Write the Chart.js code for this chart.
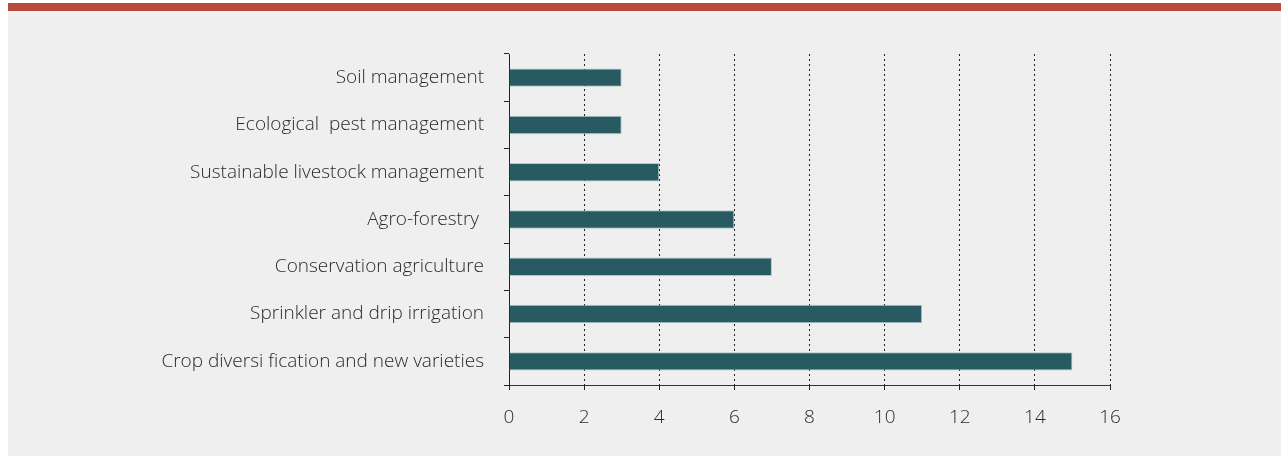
<!DOCTYPE html>
<html>
<head>
<meta charset="utf-8">
<script src="https://cdn.jsdelivr.net/npm/chart.js@4/dist/chart.umd.min.js"></script>
<style>
  body { margin: 0; background: #ffffff; }
  .topbar { position: absolute; left: 8px; top: 3px; width: 1273px; height: 8px; background: #b94a3e; }
  .panel { position: absolute; left: 8px; top: 11px; width: 1273px; height: 445px; background: #efefef; }
  #chart { display: block; }
</style>
</head>
<body>
<div class="topbar"></div>
<div class="panel"><canvas id="chart" width="1273" height="445"></canvas></div>
<script>
const categories = [
    'Soil management',
    'Ecological  pest management',
    'Sustainable livestock management',
    'Agro-forestry ',
    'Conservation agriculture',
    'Sprinkler and drip irrigation',
    'Crop diversi fication and new varieties'
];
const values = [3, 3, 4, 6, 7, 11, 15];
const xTicks = [0, 2, 4, 6, 8, 10, 12, 14, 16];

document.addEventListener('DOMContentLoaded', () => {
    const ctx = document.getElementById('chart');
    const font = { family: "'Open Sans', 'Noto Sans', sans-serif", size: 19, weight: 300 };
    new Chart(ctx, {
        type: 'bar',
        data: {
            labels: categories,
            datasets: [{
                data: values,
                backgroundColor: '#285a62',
                borderColor: 'rgba(160, 190, 195, 0.8)',
                borderWidth: 1,
                borderSkipped: 'left',
                categoryPercentage: 1,
                barPercentage: 0.39
            }]
        },
        options: {
            indexAxis: 'y',
            responsive: false,
            animation: false,
            layout: { padding: { top: 43, right: 171, left: 0, bottom: 0 } },
            scales: {
                x: {
                    min: 0,
                    max: 16,
                    afterBuildTicks: (axis) => { axis.ticks = xTicks.map(v => ({ value: v })); },
                    afterFit: (axis) => { axis.height = 71; },
                    ticks: { color: '#2b2b2b', font: font, padding: 16, maxRotation: 0 },
                    grid: {
                        color: '#222222',
                        lineWidth: 1,
                        tickLength: 5,
                        drawTicks: true
                    },
                    border: { display: false, dash: [2, 3] }
                },
                y: {
                    afterFit: (axis) => { axis.width = 501; },
                    ticks: { color: '#2b2b2b', font: font, padding: 20 },
                    grid: {
                        drawOnChartArea: true,
                        drawTicks: true,
                        tickLength: 5,
                        // only the bottom boundary line is drawn across: it is the solid x axis
                        color: (c) => c.index === undefined ? '#333333' : 'rgba(0,0,0,0)',
                        tickColor: '#222222'
                    },
                    border: { display: true, color: '#222222', width: 1 }
                }
            },
            plugins: {
                legend: { display: false },
                tooltip: { enabled: false }
            }
        }
    });
});
</script>
</body>
</html>
